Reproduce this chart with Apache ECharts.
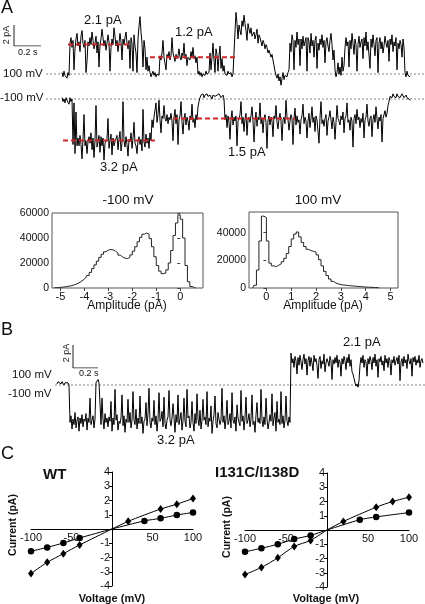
<!DOCTYPE html>
<html><head><meta charset="utf-8">
<script src="https://cdn.jsdelivr.net/npm/echarts@6/dist/echarts.min.js"></script>
<style>html,body{margin:0;padding:0;background:#fff}#c{width:425px;height:604px}</style>
</head><body><div id="c"></div>
<script>
const FONT = '"Liberation Sans", Arial, sans-serif';

// ---------- Panel A traces (pA), equally spaced samples ----------
const traceA100 = [
0.1,-0.2,0.2,-0.1,0.0,-0.3,0.1,-0.1,
2.2,2.6,1.9,2.4,0.3,1.8,2.5,2.9,2.0,2.3,
1.6,2.7,3.1,2.2,1.9,2.4,0.1,0.9,2.3,2.0,
2.6,2.1,3.0,2.4,1.8,2.2,2.7,1.5,2.3,0.5,
2.1,2.5,3.2,2.6,2.0,2.4,1.7,2.2,2.8,2.3,
0.2,1.9,2.5,2.1,3.3,2.7,2.0,2.4,1.6,2.2,
2.9,2.3,1.0,2.5,2.1,2.6,3.0,2.2,1.8,2.4,
0.4,2.6,2.2,0.2,2.8,2.0,1.5,0.1,2.5,3.4,4.1,3.0,2.2,0.5,2.4,1.8,0.3,1.2,0.2,0.6,
0.1,-0.2,0.0,0.2,-0.1,0.1,-0.2,0.0,0.1,-0.1,
1.3,1.0,1.5,2.4,1.2,1.1,0.3,1.4,1.2,1.6,
1.0,1.3,2.6,1.5,1.2,0.9,1.4,1.1,1.3,1.8,
1.2,1.0,1.5,1.3,2.2,1.1,1.4,0.6,1.2,1.3,
1.0,1.6,1.2,1.9,1.1,1.3,0.8,1.2,
0.0,0.2,-0.1,0.1,-0.2,0.0,0.1,-0.1,0.2,0.0,-0.1,0.1,
1.5,0.3,1.2,2.2,1.0,0.1,1.8,1.4,0.2,1.3,2.0,0.4,1.1,0.2,0.6,
0.0,0.1,-0.1,0.2,0.0,-0.1,0.1,-0.2,0.0,0.1,
3.0,4.4,3.6,2.5,3.5,3.1,2.8,3.8,3.4,4.2,
3.6,3.1,2.4,3.6,3.2,2.9,3.3,2.7,2.6,3.0,
2.5,2.8,3.2,2.2,2.8,2.6,2.5,2.0,2.4,2.2,
1.8,2.1,1.9,1.5,1.7,1.6,1.2,1.4,1.0,0.6,
0.2,-0.1,-0.3,0.0,-0.5,-0.2,-0.8,-0.3,0.1,-0.4,-0.1,0.0,-0.2,0.1,0.3,
2.2,1.6,2.8,2.4,0.3,2.4,1.9,3.0,2.1,2.5,
0.6,2.5,1.8,2.7,2.0,2.3,2.6,0.2,2.6,2.3,
1.5,2.9,2.0,2.4,1.2,2.4,2.7,0.4,2.2,1.7,
2.5,2.1,2.8,1.9,2.4,0.8,2.3,2.6,2.0,1.6,
2.4,2.9,2.1,1.0,1.7,
0.3,-0.2,0.1,0.8,0.0,0.5,-0.1,1.2,0.2,0.6,
1.9,2.6,2.0,2.3,0.5,2.4,1.8,2.9,2.2,1.4,
2.5,2.1,0.2,2.1,2.7,1.9,2.3,2.5,1.1,2.6,
2.0,3.0,1.7,2.3,2.4,0.4,2.5,1.9,2.8,2.1,
1.3,2.4,2.6,0.1,2.2,2.6,1.8,2.3,1.5,2.0,
2.7,2.2,1.9,2.4,0.9,2.5,2.1,2.8,1.6,2.3,
2.0,2.6,0.3,2.2,1.8,2.4,2.1,1.2,2.5,1.9,
0.1,-0.2,0.2,-0.1,0.0,-0.2];
const traceAm100 = [
0.1,-0.2,0.0,-0.3,0.1,-0.1,0.0,-0.4,0.1,-0.2,0.0,
-3.5,-0.3,-4.2,-1.0,-3.6,
-3.0,-3.6,-2.8,-3.5,-4.6,-3.1,-1.2,-3.6,-3.2,-4.2,
-3.3,-2.9,-3.4,-2.6,-3.9,-3.0,-4.5,-3.2,-0.5,-3.7,
-3.3,-2.8,-4.1,-2.9,-3.6,-3.0,-4.7,-3.4,-3.5,-3.1,
-1.5,-3.8,-3.2,-2.7,-4.3,-3.0,-3.6,-3.3,-3.4,-2.8,
-3.9,-3.1,-2.5,-4.0,-3.4,-0.2,-3.2,-3.7,-2.9,-3.5,
-4.4,-3.1,-3.3,-2.6,-3.8,-3.0,-1.8,-3.4,-3.6,-4.2,
-3.2,-2.9,-3.5,-3.1,-4.0,-0.8,-3.3,-3.7,-2.7,-3.4,
-3.0,-3.8,-2.6,-3.2,-1.6,-2.2,-1.4,
-1.4,-0.3,-1.8,-1.2,-0.1,-1.6,-2.6,-1.3,-1.5,-0.5,-1.5,-1.7,-1.2,-1.9,-1.4,-1.6,-1.1,
-1.7,-3.2,-1.4,-0.8,-1.9,-1.2,-3.5,-1.6,-1.3,-0.2,
-1.8,-2.7,-1.5,-1.1,-2.0,-1.4,-1.7,-2.4,-1.3,-1.6,
-0.4,-1.8,-1.5,-2.2,-1.2,-1.6,-0.6,-0.2,
0.1,0.3,0.2,0.4,0.1,0.3,0.2,0.4,0.2,0.1,0.3,0.2,0.0,0.3,0.4,0.2,0.1,0.3,0.2,0.4,0.3,0.1,0.2,0.3,0.0,
-1.6,-1.2,-2.2,-1.3,-1.8,-3.1,-1.5,-0.9,-2.0,-1.4,-1.7,-1.3,-3.6,-1.7,-1.5,
-1.2,-0.2,-1.9,-1.4,-2.5,-1.5,-1.1,-2.8,-1.6,-1.4,-1.8,-1.3,-0.6,-1.7,-3.3,
-1.7,-1.0,-2.1,-1.4,-1.6,-0.3,-1.9,-1.5,-2.6,-1.5,-1.2,-1.8,-3.8,-1.6,-1.3,
-2.0,-1.4,-1.7,-2.9,-1.3,-1.5,-0.5,-1.8,-2.3,-1.5,-1.1,-1.7,-3.2,-1.6,-1.4,
-1.9,-0.1,-1.4,-1.6,-2.4,-1.7,-1.2,-1.5,-3.5,-1.5,-0.7,-2.0,-1.3,-1.8,-1.6,
-2.7,-1.6,-1.3,-0.4,-1.9,-1.4,-1.7,-3.0,-1.7,-1.1,-2.2,-1.5,-0.6,-1.8,-1.4,
-2.5,-1.3,-1.6,-1.5,-3.4,-1.4,-0.2,-1.9,-1.6,-2.1,-1.5,-1.2,-2.8,-1.7,-1.4,
-0.9,-1.6,-2.3,-1.4,-1.8,-3.1,-1.8,-0.5,-1.5,-1.7,-2.0,-1.3,-1.6,-1.0,-2.6,
-1.5,-1.3,-0.3,-1.8,-1.6,-2.4,-1.4,-1.7,-3.7,-1.5,-1.2,-1.9,-0.8,-1.6,-1.4,
-2.2,-1.5,-1.8,-1.1,-3.0,-1.6,-1.4,-0.4,-1.7,-2.1,-1.5,-1.3,-2.9,-1.6,-1.2,
-1.8,-0.6,-1.5,-2.3,-1.4,-1.7,-1.2,-3.3,-1.5,-1.6,-0.9,-1.4,-1.1,-0.5,-0.2,
0.2,0.3,0.1,0.4,0.2,0.3,0.1,0.4,0.2,0.3,0.1,0.2,0.4,0.3,0.1,0.2,0.3,0.1,0.2,0.0,-0.1];
const traceAStart = 0.1185, traceADt = 0.0074066;   // s
const levelsA100 = [2.1, 1.2];
const levelSpansA100 = [[0.163, 0.622], [0.770, 1.400]];
const levelsAm100 = [-3.2, -1.5];
const levelSpansAm100 = [[0.126, 0.807], [0.941, 1.844]];

// ---------- Panel B trace ----------
const traceB = [
0.1,0.3,0.2,0.4,0.1,0.3,0.2,0.0,0.2,0.3,0.1,0.2,0.0,
-3.4,-2.8,-4.0,-3.1,-3.6,-2.5,-3.9,-3.2,-2.9,-4.2,-3.0,-3.5,-2.7,-3.8,-3.1,-3.3,-2.6,-4.1,-3.0,-3.4,-1.2,-3.6,-3.2,-2.8,-3.9,-3.1,
0.2,0.3,0.5,0.2,0.3,
-3.6,-1.2,-3.1,-4.0,-2.6,-3.4,-3.0,-3.8,-2.9,-3.3,
-1.5,-4.2,-3.0,-3.6,-0.4,-3.2,-2.7,-4.1,-3.3,-3.5,
-3.0,-0.9,-3.7,-2.8,-4.3,-3.1,-3.4,-1.3,-3.4,-2.5,
-3.9,-3.2,-0.6,-3.2,-3.6,-2.2,-4.0,-3.0,-3.5,-1.0,
-3.5,-2.9,-4.4,-3.3,-3.1,-1.6,-3.7,-2.6,-0.3,-3.4,
-3.9,-3.0,-3.3,-1.4,-3.6,-2.8,-4.2,-3.2,-0.7,-3.3,
-3.1,-2.4,-3.8,-1.1,-3.5,-4.0,-3.2,-2.9,-0.5,-3.2,
-3.7,-3.0,-1.7,-3.0,-4.3,-2.7,-3.4,-0.9,-3.6,-3.1,
-2.5,-4.1,-3.3,-1.2,-3.3,-3.8,-0.4,-3.0,-2.8,-3.9,
-3.4,-1.5,-3.4,-4.2,-2.6,-3.5,-0.8,-3.1,-3.7,-2.3,
-4.0,-3.2,-1.3,-3.2,-2.9,-3.6,-0.6,-3.8,-3.0,-3.3,
-1.9,-4.4,-3.3,-2.7,-1.0,-3.5,-3.9,-2.5,-3.1,-3.6,
-3.2,-0.3,-3.4,-2.8,-4.0,-3.1,-1.4,-3.6,-3.3,-2.6,
-3.9,-0.7,-3.2,-3.5,-2.9,-4.2,-1.8,-3.0,-3.4,-3.7,
-0.5,-3.3,-2.8,-4.1,-3.0,-1.1,-3.5,-3.2,-2.6,-3.8,
-3.1,-0.9,-3.6,-3.3,-4.3,-2.7,-1.6,-3.4,-3.0,-3.5,
-0.4,-3.2,-3.8,-2.9,-3.6,-1.2,-3.1,-4.0,-3.4,-2.7,
-3.3,-0.8,-3.7,-3.0,-2.5,-4.2,-1.5,-3.4,-3.1,-3.6,
-0.6,-3.5,-2.8,-3.9,-3.2,-1.0,-3.3,-3.7,-2.9,-3.4,
2.9,2.0,2.4,1.6,2.6,2.2,1.0,2.5,1.8,2.7,
2.1,1.4,2.3,2.8,1.9,2.4,0.9,2.2,2.6,1.7,
2.5,2.0,1.3,2.7,2.1,2.4,1.8,0.6,2.3,2.6,
1.5,2.2,1.9,2.8,1.2,2.0,2.4,2.1,1.7,2.6,
2.2,0.5,2.3,1.9,2.5,2.0,2.7,1.6,2.3,2.1,
0.8,2.4,1.9,2.6,2.2,1.4,2.5,2.0,2.8,1.7,
2.3,1.2,1.0,0.6,0.2,-0.1,0.1,-0.2,0.4,1.8,
2.5,2.0,2.7,1.6,2.3,2.1,0.8,2.4,1.9,2.6,
2.2,1.4,2.5,2.0,2.8,1.7,2.3,0.7,2.4,2.1,
2.6,1.8,2.2,1.3,2.7,2.0,2.4,1.6,2.5,2.2,
0.9,2.3,2.0,2.6,1.8,2.2,2.5,1.9,2.7,0.4,
2.1,2.4,1.7,2.6,2.0,2.3,1.5,2.8,2.2,1.9,
2.4,0.8,2.5,2.1,2.6,1.8,2.3,2.0,2.7,1.6,
2.2,2.4,2.0];
const traceBStart = 0.016, traceBDt = 0.008;

// scale bars: 2 pA, 0.2 s
const scaleBarPA = 2, scaleBarS = 0.2;

// ---------- Amplitude histograms ----------
const histNegFirstCenter = -5.25, histPosFirstCenter = -0.55, histBin = 0.1;
const histNegCounts = [200,300,400,600,800,1100,1400,1800,2300,3000,3900,5000,6400,8000,10000,12500,15500,18500,21500,24500,27000,29000,30300,30800,30500,29500,28000,26300,24800,23800,23600,24500,26500,29500,33000,37000,40500,43000,44000,43000,39500,33000,25000,18000,13500,11500,12000,14500,20000,30000,42000,52000,58500,55000,40000,18000,5000,1200,200,0];
const histPosCounts = [0,2000,13000,34000,52000,51000,34000,18000,16000,15500,16500,17500,19000,21500,25000,30000,35500,39000,40500,37000,33000,30000,28000,27000,26500,26000,24000,20500,16000,12000,9000,6500,4800,3600,2900,2500,2200,2000,1800,1600,1450,1300,1150,1000,850,700,600,500,400,300,200,0];
const histNegTicks = [-5,-4,-3,-2,-1,0];
const histPosTicks = [0,1,2,3,4,5];

// ---------- I-V curves ----------
const ivWT_diamondV = [-100,-80,-60,-40,0,20,60,80,100];
const ivWT_diamondI = [-3.12,-2.34,-1.73,-1.12,0,0.54,1.4,1.74,2.14];
const ivWT_circleV  = [-100,-80,-60,-40,0,40,60,80,100];
const ivWT_circleI  = [-1.56,-1.29,-0.98,-0.63,0,0.57,0.75,0.98,1.16];
const ivMut_diamondV = [-100,-80,-60,-40,-20,0,20,60,80,100];
const ivMut_diamondI = [-3.12,-2.63,-1.95,-1.15,-0.73,0,0.6,1.6,2.0,2.3];
const ivMut_circleV  = [-100,-80,-60,-40,-20,0,40,60,100];
const ivMut_circleI  = [-1.53,-1.28,-1.0,-0.64,-0.38,0,0.72,0.92,1.22];

// ---------- build ----------
const toXY = (arr, t0, dt) => arr.map((v, i) => [t0 + i * dt, v]);
const hist = (counts, c0) => counts.map((v, i) => [c0 + i * histBin, v]);
const ivData = (V, I) => V.map((v, i) => v === 0 ? {value: [v, I[i]], symbol: 'none'} : [v, I[i]]);

const TXT = '#111';
const grids = [
  {left: 46, top: 8.2, width: 379, height: 86.8},   // 0 A +100
  {left: 46, top: 86, width: 379, height: 78},      // 1 A -100
  {left: 14, top: 25, width: 27, height: 21},       // 2 A scale bar
  {left: 52, top: 213, width: 151, height: 75, show: true, borderColor: '#555', borderWidth: 1}, // 3 hist -100
  {left: 249, top: 212, width: 149, height: 76, show: true, borderColor: '#555', borderWidth: 1}, // 4 hist +100
  {left: 55, top: 341, width: 370, height: 99},     // 5 B trace
  {left: 73, top: 345, width: 25, height: 23},      // 6 B scale bar
  {left: 31, top: 472, width: 162, height: 114},    // 7 IV WT
  {left: 245, top: 473, width: 164, height: 114}    // 8 IV mutant
];
const hid = (gi, min, max) => ({gridIndex: gi, type: 'value', min, max, show: false});
const histY = (gi, max) => ({
  gridIndex: gi, type: 'value', min: 0, max, interval: 20000,
  axisLine: {show: false}, splitLine: {show: false},
  axisTick: {show: true, length: 3, lineStyle: {color: '#444'}},
  axisLabel: {fontSize: 10.5, color: TXT, fontFamily: FONT, margin: 3, showMaxLabel: max % 20000 === 0, formatter: v => String(v)}
});
const histX = (gi, min, max, ticks) => ({
  gridIndex: gi, type: 'value', min, max,
  axisLine: {show: false}, splitLine: {show: false},
  axisTick: {show: true, length: 3, lineStyle: {color: '#444'}, customValues: ticks},
  axisLabel: {fontSize: 11, color: TXT, fontFamily: FONT, margin: 3, customValues: ticks}
});
const ivX = (gi, off) => ({
  gridIndex: gi, type: 'value', min: -100, max: 100, interval: 50, position: 'bottom', offset: off,
  axisLine: {onZero: false, lineStyle: {color: '#000', width: 1}},
  axisTick: {show: false}, splitLine: {show: false},
  axisLabel: {fontSize: 11, color: TXT, fontFamily: FONT, margin: 3, formatter: v => v === 0 ? '' : String(v)}
});
const ivY = (gi, off) => ({
  gridIndex: gi, type: 'value', min: -4, max: 4, interval: 1, position: 'left', offset: off,
  axisLine: {onZero: false, lineStyle: {color: '#000', width: 1}},
  axisTick: {show: true, length: 3, lineStyle: {color: '#000'}}, splitLine: {show: false},
  axisLabel: {fontSize: 11, color: TXT, fontFamily: FONT, margin: 2, formatter: v => v === 0 ? '' : String(v)}
});

const xAxes = [hid(0, 0, 2.807), hid(1, 0, 2.807), hid(2, 0, scaleBarS),
  histX(3, -5.35, 0.95, histNegTicks), histX(4, -0.7, 5.3, histPosTicks),
  hid(5, 0, 2.96), hid(6, 0, scaleBarS), ivX(7, -57), ivX(8, -57)];
const yAxes = [hid(0, -1.5, 4.7), hid(1, -5, 1), hid(2, 0, scaleBarPA),
  histY(3, 60000), histY(4, 55000),
  hid(5, -5, 4), hid(6, 0, scaleBarPA), ivY(7, -81), ivY(8, -82)];

const base = {type: 'line', symbol: 'none', animation: false, silent: true};
const traceLine = (gi, data) => Object.assign({}, base, {xAxisIndex: gi, yAxisIndex: gi, data, sampling: 'none', lineStyle: {color: '#000', width: 1}, z: 3});
const baseline = (gi, t0, t1) => Object.assign({}, base, {xAxisIndex: gi, yAxisIndex: gi, data: [[t0, 0], [t1, 0]], lineStyle: {color: '#666', width: 0.8, type: [2, 2]}, z: 2});
const red = (gi, v, span) => Object.assign({}, base, {xAxisIndex: gi, yAxisIndex: gi, data: [[span[0], v], [span[1], v]], lineStyle: {color: '#d02424', width: 2, type: [5, 3]}, z: 5});
const scaleBar = gi => Object.assign({}, base, {xAxisIndex: gi, yAxisIndex: gi, data: [[0, scaleBarPA], [0, 0], [scaleBarS, 0]], lineStyle: {color: '#222', width: 1}});
const histLine = (gi, data) => Object.assign({}, base, {xAxisIndex: gi, yAxisIndex: gi, data, step: 'middle', lineStyle: {color: '#222', width: 1}});
const ivLine = (gi, data, sym, size) => Object.assign({}, base, {xAxisIndex: gi, yAxisIndex: gi, data, smooth: 0.25, symbol: sym, symbolSize: size, showSymbol: true, showAllSymbol: true, itemStyle: {color: '#000'}, lineStyle: {color: '#000', width: 1}});

const series = [
  baseline(0, 0, 2.807), traceLine(0, toXY(traceA100, traceAStart, traceADt)),
  ...levelsA100.map((v, i) => red(0, v, levelSpansA100[i])),
  baseline(1, 0, 2.807), traceLine(1, toXY(traceAm100, traceAStart, traceADt)),
  ...levelsAm100.map((v, i) => red(1, v, levelSpansAm100[i])),
  scaleBar(2),
  histLine(3, hist(histNegCounts, histNegFirstCenter)),
  histLine(4, hist(histPosCounts, histPosFirstCenter)),
  baseline(5, 0, 2.96), traceLine(5, toXY(traceB, traceBStart, traceBDt)),
  scaleBar(6),
  ivLine(7, ivData(ivWT_diamondV, ivWT_diamondI), 'diamond', [6, 8]),
  ivLine(7, ivData(ivWT_circleV, ivWT_circleI), 'circle', 6.5),
  ivLine(8, ivData(ivMut_diamondV, ivMut_diamondI), 'diamond', [6, 8]),
  ivLine(8, ivData(ivMut_circleV, ivMut_circleI), 'circle', 6.5)
];

const T = (text, x, y, size, opts) => Object.assign({
  type: 'text', x, y, silent: true,
  style: Object.assign({text, fill: TXT, font: size + 'px ' + FONT, align: 'left', verticalAlign: 'middle'}, (opts && opts.style) || {})
}, opts && opts.rotation ? {rotation: opts.rotation} : {});
const B = s => ({style: {font: 'bold ' + s + 'px ' + FONT}});
const C = {style: {align: 'center'}};
const graphics = [
  T('A', 1, 8, 18), T('B', 1, 330, 18), T('C', 1, 454, 18),
  T('2.1 pA', 84, 20, 13), T('1.2 pA', 175, 32, 13),
  T('100 mV', 3, 74, 11.5), T('-100 mV', 0, 98, 11.5),
  T('2 pA', 7, 35, 9, {rotation: Math.PI / 2, style: {align: 'center'}}),
  T('0.2 s', 18, 53, 9),
  T('3.2 pA', 100, 167, 13), T('1.5 pA', 228, 152, 13),
  T('-100 mV', 128, 200, 13.5, C), T('100 mV', 318, 200, 13.5, C),
  T('Amplitude (pA)', 127, 306, 12, C), T('Amplitude (pA)', 323, 306, 12, C),
  T('2.1 pA', 343, 342, 13),
  T('100 mV', 12, 375, 11.5), T('-100 mV', 8, 394, 11.5),
  T('2 pA', 67, 353, 9, {rotation: Math.PI / 2, style: {align: 'center'}}),
  T('0.2 s', 79, 374, 9),
  T('3.2 pA', 157, 440, 13),
  T('WT', 43, 475, 15, B(15)), T('I131C/I138D', 215, 473, 15, B(15)),
  T('Current (pA)', 13, 525, 10.5, {rotation: Math.PI / 2, style: {align: 'center', font: 'bold 10.5px ' + FONT}}),
  T('Current (pA)', 227, 527, 10.5, {rotation: Math.PI / 2, style: {align: 'center', font: 'bold 10.5px ' + FONT}}),
  T('Voltage (mV)', 112, 599, 11, {style: {align: 'center', font: 'bold 11px ' + FONT}}),
  T('Voltage (mV)', 326, 599, 11, {style: {align: 'center', font: 'bold 11px ' + FONT}})
];

const chart = echarts.init(document.getElementById('c'), null, {renderer: 'canvas'});
chart.setOption({
  backgroundColor: '#fff', animation: false,
  textStyle: {fontFamily: FONT},
  grid: grids, xAxis: xAxes, yAxis: yAxes, series, graphic: graphics
});
</script></body></html>
